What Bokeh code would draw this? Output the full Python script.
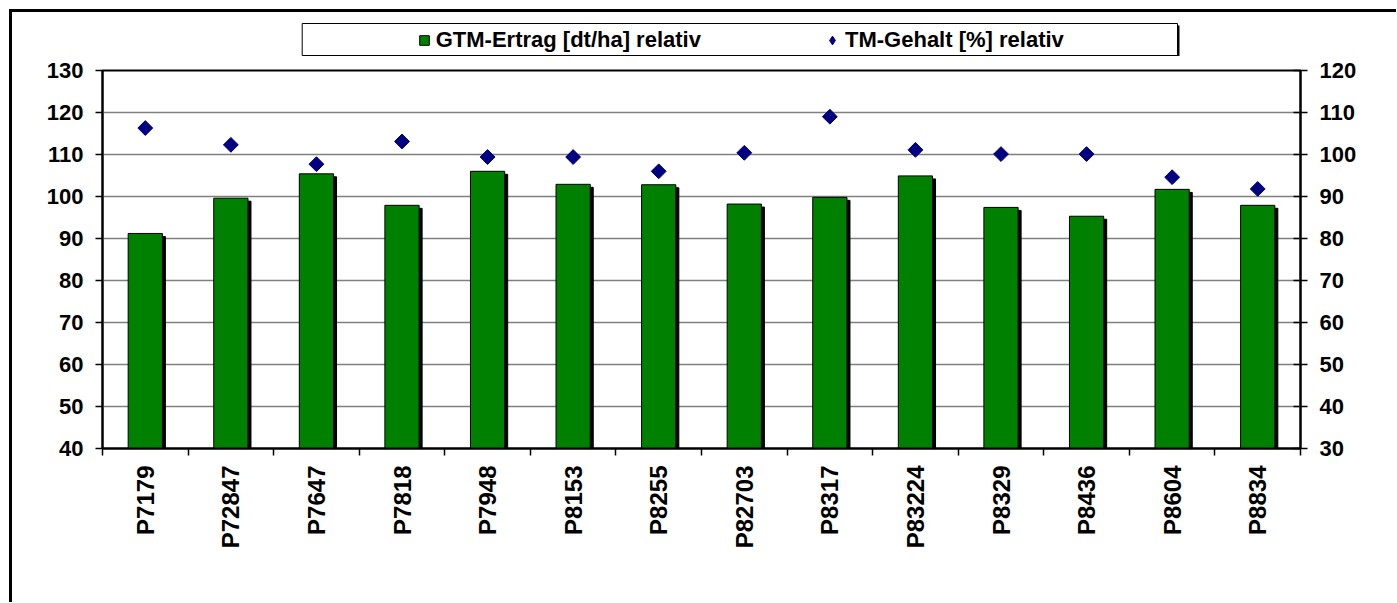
import numpy as np
from bokeh.plotting import figure
from bokeh.layouts import column
from bokeh.models import (Range1d, LinearAxis, FixedTicker, Legend, LegendItem,
                          ColumnDataSource)
from bokeh.embed import file_html
from bokeh.resources import INLINE

# ---------------- data ----------------
categories = ["P7179", "P72847", "P7647", "P7818", "P7948", "P8153", "P8255",
              "P82703", "P8317", "P83224", "P8329", "P8436", "P8604", "P8834"]
gtm_ertrag = [91.2, 99.6, 105.4, 97.9, 106.0, 102.9, 102.8,
              98.2, 99.8, 104.9, 97.4, 95.3, 101.7, 97.9]
tm_gehalt = [106.3, 102.3, 97.7, 103.1, 99.4, 99.4, 96.0,
             100.4, 109.0, 101.1, 100.1, 100.1, 94.6, 91.8]
left_ticks = [40, 50, 60, 70, 80, 90, 100, 110, 120, 130]
right_ticks = [30, 40, 50, 60, 70, 80, 90, 100, 110, 120]
legend_labels = ["GTM-Ertrag [dt/ha] relativ", "TM-Gehalt [%] relativ"]

# ---------------- layout (px) ----------------
OFF = 9           # offset of the outer chart border
BORDER = 3
W = 1384
LH = 44           # legend strip height
H = 546           # main chart height
FL, FR = 90, 1288           # frame left/right (canvas px)
FT, FB = 14, 392            # frame top/bottom (canvas px)
n = len(categories)
LMIN, LMAX = left_ticks[0], left_ticks[-1]
RMIN, RMAX = right_ticks[0], right_ticks[-1]
px_x = (FR - FL) / n
px_y = (FB - FT) / (LMAX - LMIN)
SH = 3  # bar shadow offset px

FONT = "Liberation Sans"
GREEN = "#008000"
NAVY = "#000080"

x = np.arange(n) + 0.5
src = ColumnDataSource(dict(
    x=x, top=gtm_ertrag, tm=tm_gehalt,
    sx=x + SH / px_x, stop=np.array(gtm_ertrag) - SH / px_y,
))

# ---------------- main chart ----------------
p = figure(width=W, height=H, output_backend="svg", toolbar_location=None,
           x_range=Range1d(0, n), y_range=Range1d(LMIN, LMAX),
           min_border_left=FL, min_border_right=W - FR,
           min_border_top=FT, min_border_bottom=H - FB)
p.extra_y_ranges = {"r": Range1d(RMIN, RMAX)}
p.background_fill_color = "white"
p.border_fill_color = "white"
p.outline_line_color = "black"
p.outline_line_width = 2

p.vbar(x="sx", top="stop", bottom=LMIN, width=0.4, source=src,
       fill_color="black", line_color="black")
p.vbar(x="x", top="top", bottom=LMIN, width=0.4, source=src,
       fill_color=GREEN, line_color="black", line_width=1)
p.scatter(x="x", y="tm", source=src, y_range_name="r", marker="square",
          angle=np.pi / 4, size=10.5, fill_color=NAVY, line_color=NAVY)

p.xgrid.visible = False
p.ygrid.ticker = FixedTicker(ticks=left_ticks)
p.ygrid.grid_line_color = "#808080"
p.ygrid.grid_line_width = 1.5


def style_axis(ax, size):
    ax.axis_line_color = "black"
    ax.axis_line_width = 2
    ax.major_tick_line_color = "black"
    ax.major_tick_line_width = 1.5
    ax.minor_tick_line_color = None
    ax.major_label_text_font = FONT
    ax.major_label_text_font_style = "bold"
    ax.major_label_text_font_size = size
    ax.major_label_text_color = "black"


ly = p.yaxis[0]
ly.ticker = FixedTicker(ticks=left_ticks)
style_axis(ly, "22px")
ly.major_tick_out = 7
ly.major_tick_in = 0
ly.major_label_standoff = 12

ry = LinearAxis(y_range_name="r", ticker=FixedTicker(ticks=right_ticks))
style_axis(ry, "22px")
ry.major_tick_out = 7
ry.major_tick_in = 7
ry.major_label_standoff = 12
p.add_layout(ry, "right")

xa = p.xaxis[0]
xa.ticker = FixedTicker(ticks=list(x), minor_ticks=list(range(n + 1)))
style_axis(xa, "24px")
xa.major_tick_out = 0
xa.major_tick_in = 0
xa.minor_tick_line_color = "black"
xa.minor_tick_line_width = 1.5
xa.minor_tick_out = 7
xa.minor_tick_in = 0
xa.major_label_orientation = np.pi / 2
xa.major_label_standoff = 10
xa.major_label_overrides = {float(v): c for v, c in zip(x, categories)}

# ---------------- legend strip (frame aligned with the main frame) -------
lf = figure(width=W, height=LH, output_backend="svg", toolbar_location=None,
            x_range=Range1d(FL, FR), y_range=Range1d(LH, 0),
            min_border=0, x_axis_location=None, y_axis_location=None)
lf.extra_x_ranges = {"proxy": Range1d(1000, 2000)}
lf.extra_y_ranges = {"proxy": Range1d(1000, 2000)}
lf.grid.visible = False
lf.outline_line_color = None
lf.background_fill_color = "white"
lf.border_fill_color = "white"

BOX_L, BOX_R, BOX_T, BOX_B = 289.7, 1165, 11, 43
lf.quad(left=[BOX_L + 2], right=[BOX_R + 2], top=[BOX_T + 2], bottom=[BOX_B + 2],
        fill_color="black", line_color=None)
lf.quad(left=[BOX_L], right=[BOX_R], top=[BOX_T], bottom=[BOX_B],
        fill_color="white", line_color="black", line_width=1)

# legend proxies: same data/style as the chart, mapped off-screen
lg_bar = lf.vbar(x="x", top="top", bottom=LMIN, width=0.4, source=src,
                 x_range_name="proxy", y_range_name="proxy",
                 fill_color=GREEN, line_color="black")
lg_pt = lf.scatter(x="x", y="tm", source=src, marker="diamond",
                   x_range_name="proxy", y_range_name="proxy",
                   size=10.5, fill_color=NAVY, line_color=NAVY)

common = dict(orientation="horizontal", padding=0, margin=0,
              border_line_alpha=0, background_fill_alpha=0,
              label_text_font=FONT, label_text_font_style="bold",
              label_text_font_size="22px", label_text_color="black")
legend_a = Legend(items=[LegendItem(label=legend_labels[0], renderers=[lg_bar])],
                  location=(315.7, 3.5), glyph_width=12, glyph_height=12,
                  label_standoff=6, **common)
legend_b = Legend(items=[LegendItem(label=legend_labels[1], renderers=[lg_pt])],
                  location=(719, 3.5), glyph_width=22, glyph_height=22,
                  label_standoff=2, **common)
lf.add_layout(legend_a)
lf.add_layout(legend_b)

layout = column(lf, p, spacing=0,
                styles={"margin-left": f"{OFF}px", "margin-top": f"{OFF}px",
                        "border-left": f"{BORDER}px solid black",
                        "border-top": f"{BORDER}px solid black",
                        "background-color": "white"})

open("out.html", "w").write(file_html(layout, INLINE))
